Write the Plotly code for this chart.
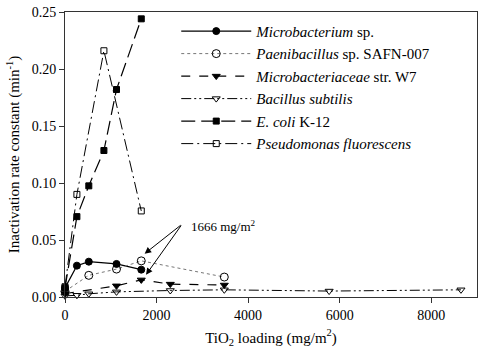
import plotly.graph_objects as go

# Data (TiO2 loading mg/m2, inactivation rate constant min^-1)
micro_x = [0, 260, 520, 1125, 1666]
micro_y = [0.008, 0.0275, 0.031, 0.029, 0.024]

paeni_x = [0, 520, 1125, 1666, 3480]
paeni_y = [0.005, 0.019, 0.0245, 0.0317, 0.0175]

w7_x = [0, 1125, 1666, 2300, 3480]
w7_y = [0.003, 0.0098, 0.0150, 0.0113, 0.0105]

bsub_x = [0, 260, 520, 1125, 2300, 3480, 5770, 8650]
bsub_y = [0.001, 0.0015, 0.0028, 0.0045, 0.0057, 0.0063, 0.0052, 0.0063]

ecoli_x = [0, 260, 520, 850, 1125, 1666]
ecoli_y = [0.008, 0.0705, 0.0975, 0.1285, 0.182, 0.244]

pseudo_x = [0, 260, 850, 1666]
pseudo_y = [0.009, 0.090, 0.216, 0.0755]

names = [
    "<i>Microbacterium</i> sp.",
    "<i>Paenibacillus</i> sp. SAFN-007",
    "<i>Microbacteriaceae</i> str. W7",
    "<i>Bacillus subtilis</i>",
    "<i>E. coli</i> K-12",
    "<i>Pseudomonas fluorescens</i>",
]

FONT = "Liberation Serif"
fig = go.Figure()

series = [
    (micro_x, micro_y, "solid", "#000", 1.2, "circle", "black", 7),
    (paeni_x, paeni_y, "dot", "#777", 1, "circle-open", "black", 8),
    (w7_x, w7_y, "dash", "#000", 1.2, "triangle-down", "black", 7),
    (bsub_x, bsub_y, "10px,3px,2px,3px,2px,3px", "#000", 1, "triangle-down-open", "black", 7),
    (ecoli_x, ecoli_y, "14px,6px", "#000", 1.2, "square", "black", 6),
    (pseudo_x, pseudo_y, "12px,4px,2px,4px", "#000", 1, "square-open", "black", 6),
]
for (xs, ys, dash, lc, lw, sym, mc, ms), nm in zip(series, names):
    fig.add_trace(go.Scatter(
        x=xs, y=ys, name=nm, mode="lines+markers",
        line=dict(color=lc, width=lw, dash=dash),
        marker=dict(symbol=sym, color=mc, size=ms,
                    line=dict(color="black", width=1)),
        cliponaxis=False,
    ))

# annotation with two arrows
tail_x, tail_y = 2560, 0.064
for hx, hy in [(1740, 0.038), (1770, 0.0195)]:
    fig.add_annotation(x=hx, y=hy, ax=tail_x, ay=tail_y, axref="x", ayref="y",
                       text="", showarrow=True, arrowhead=2, arrowsize=1.3,
                       arrowwidth=1, arrowcolor="#000", standoff=0, startstandoff=0)
fig.add_annotation(x=2700, y=0.0625, text="1666 mg/m<sup>2</sup>", showarrow=False,
                   xanchor="left", yanchor="middle",
                   font=dict(family=FONT, size=13, color="#000"))

fig.update_layout(
    width=483, height=356,
    margin=dict(l=65, r=5, t=8, b=59),
    paper_bgcolor="white", plot_bgcolor="white",
    font=dict(family=FONT, size=14, color="#000"),
    showlegend=True,
    legend=dict(x=0.27, y=0.99, xanchor="left", yanchor="top",
                bgcolor="rgba(0,0,0,0)", font=dict(family=FONT, size=15, color="#000"),
                itemwidth=70, tracegroupgap=0),
    xaxis=dict(range=[0, 9000], tickvals=[0, 2000, 4000, 6000, 8000],
               ticks="outside", ticklen=5, tickcolor="#333",
               showline=True, linecolor="#333", linewidth=1, mirror=True,
               showgrid=False, zeroline=False,
               tickfont=dict(family=FONT, size=14),
               title=dict(text="TiO<sub>2</sub> loading (mg/m<sup>2</sup>)",
                          font=dict(family=FONT, size=15), standoff=10)),
    yaxis=dict(range=[0, 0.25], tickvals=[0, 0.05, 0.10, 0.15, 0.20, 0.25],
               tickformat=".2f",
               ticks="outside", ticklen=5, tickcolor="#333",
               showline=True, linecolor="#333", linewidth=1, mirror=True,
               showgrid=False, zeroline=False,
               tickfont=dict(family=FONT, size=14),
               title=dict(text="Inactivation rate constant (min<sup>-1</sup>)",
                          font=dict(family=FONT, size=15), standoff=8)),
)

fig.write_html("out.html")
